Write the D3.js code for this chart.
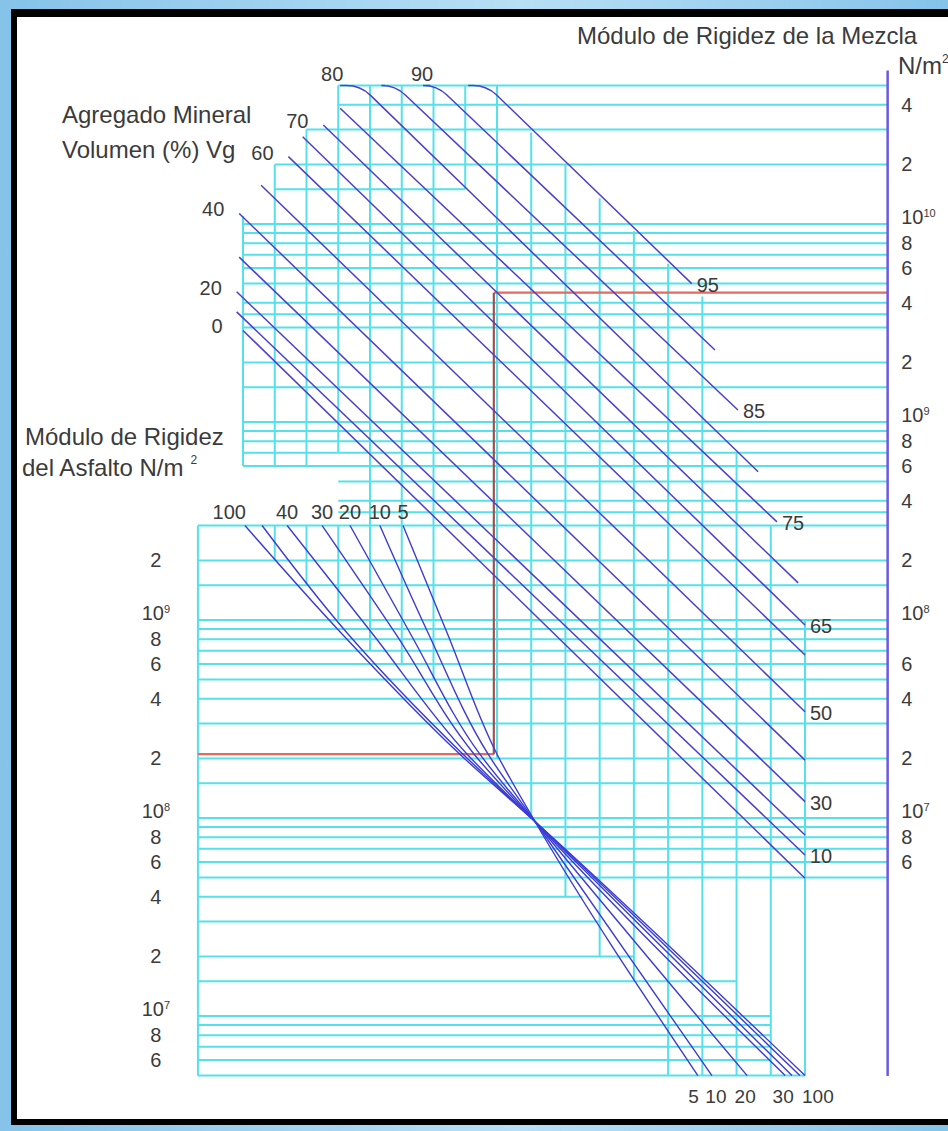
<!DOCTYPE html>
<html>
<head>
<meta charset="utf-8">
<title>Nomograma rigidez de la mezcla</title>
<script src="https://cdn.jsdelivr.net/npm/d3@7/dist/d3.min.js"></script>
<style>
  html, body { margin: 0; padding: 0; background: #ffffff; }
  svg { display: block; }
  text { font-family: "Liberation Sans", Arial, Helvetica, sans-serif; fill: #3b3b3b; }
</style>
</head>
<body>
<svg id="chart" width="948" height="1131"></svg>
<script>
// grid columns are numbered 0..17, the bitumen box starts at -1.42, mix axis sits at 19.4
const leftCol = -1.42;
const axisCol = 19.4;

// right axis: stiffness of the mix, N/m2
const mixTicks = [4e10, 2e10, 1e10, 8e9, 6e9, 4e9, 2e9, 1e9, 8e8, 6e8, 4e8, 2e8, 1e8, 6e7, 4e7, 2e7, 1e7, 8e6, 6e6];
// left axis: stiffness of the bitumen, N/m2
const bitTicks = [2e9, 1e9, 8e8, 6e8, 4e8, 2e8, 1e8, 8e7, 6e7, 4e7, 2e7, 1e7, 8e6, 6e6];

// horizontal grid: [mix stiffness, from column, to column]
const hGrid = [
  [5e10, 3, axisCol], [4e10, 3, axisCol], [3e10, 2, axisCol], [2e10, 1, axisCol], [1.5e10, 1, 7],
  [1e10, 0, axisCol], [9e9, 0, axisCol], [8e9, 0, axisCol], [7e9, 0, axisCol], [6e9, 0, axisCol],
  [5e9, 0, axisCol], [4e9, 0, axisCol], [3.5e9, 0, axisCol], [3e9, 0, axisCol], [2e9, 0, axisCol],
  [1.5e9, 0, axisCol], [1e9, 0, axisCol], [9e8, 0, axisCol], [8e8, 0, axisCol], [7e8, 0, axisCol],
  [6e8, 0, axisCol], [5e8, 3, axisCol], [4e8, 3, axisCol], [3.5e8, 3, axisCol],
  [3e8, leftCol, axisCol], [2e8, leftCol, axisCol], [1.5e8, leftCol, axisCol], [1e8, leftCol, axisCol],
  [9e7, leftCol, axisCol], [8e7, leftCol, axisCol], [7e7, leftCol, axisCol], [6e7, leftCol, axisCol],
  [5e7, leftCol, axisCol], [4e7, leftCol, axisCol], [3e7, leftCol, axisCol], [2e7, leftCol, axisCol],
  [1.5e7, leftCol, axisCol], [1e7, leftCol, axisCol], [9e6, leftCol, axisCol], [8e6, leftCol, axisCol],
  [7e6, leftCol, axisCol], [6e6, leftCol, axisCol], [5e6, leftCol, axisCol],
  [4e6, leftCol, 10.5], [3e6, leftCol, 11], [2e6, leftCol, 12], [1.5e6, leftCol, 15],
  [1e6, leftCol, 16], [9e5, leftCol, 16], [8e5, leftCol, 16], [7e5, leftCol, 16], [6e5, leftCol, 16],
  [5e5, leftCol, 17]
];

// vertical grid: [column, top, bottom] as mix stiffness
const vGrid = [
  [leftCol, 3e8, 5e5],
  [0, 1.1e10, 6e8], [1, 2e10, 6e8], [2, 3e10, 6e8], [3, 5e10, 7e8],
  [1, 3e8, 2e8], [2, 3e8, 1.5e8], [3, 3e8, 1e8],
  [4, 5e10, 7e7], [5, 5e10, 6e7], [6, 5e10, 5e7], [7, 5e10, 1.5e10],
  [8, 5e10, 2e7], [9, 2.9e10, 1e7], [10, 2e10, 4e6], [11, 1.35e10, 2e6],
  [12, 9.2e9, 1.5e6], [13, 6.3e9, 5e5], [14, 4.3e9, 5e5], [15, 7e8, 5e5],
  [16, 3e8, 5e5], [17, 1e8, 5e5]
];

// Vg curves, mineral aggregate volume %: [column, mix stiffness] at both ends
const vgValues = [0, 10, 20, 30, 40, 50, 60, 65, 70, 75, 80, 85, 90, 95];
const vgStart = [
  [0, 2.9e9], [-0.2, 3.6e9], [-0.2, 4.55e9], [-0.12, 6.8e9], [-0.12, 1.13e10],
  [0.57, 1.57e10], [1.43, 2.19e10], [1.88, 2.76e10], [2.53, 3.16e10], [3.06, 3.84e10],
  [3.06, 5e10], [4.47, 5e10], [5.89, 5e10], [7.09, 5e10]
];
// column where the top curves leave the 5e10 line
const vgKnee = [null, null, null, null, null, null, null, null, null, null, 3.70, 4.80, 6.11, 7.68];
const vgEnd = [
  [17, 4.96e6], [17, 6.5e6], [17, 8.2e6], [17, 1.21e7], [17, 1.96e7],
  [17, 3.44e7], [17, 6.65e7], [17, 9.44e7], [16.8, 1.54e8], [16.18, 3.13e8],
  [15.63, 5.61e8], [15.04, 1.15e9], [14.37, 2.31e9], [13.69, 5.0e9]
];
const vgLeftLabels = [0, 20, 40, 60, 70, 80, 90];
const vgRightLabels = [10, 30, 50, 65, 75, 85, 95];

// Vb fan, bitumen volume %: column of each line at the bitumen stiffness levels
const vbValues = [100, 50, 40, 30, 20, 10, 5];
const vbLevels = [3e9, 8.6e8, 2.1e8, 9.6e7, 5e6];
const vbCols = [
  [0.06, 3.09, 6.83, 9.11, 17],
  [0.6, 3.28, 6.93, 9.11, 16.85],
  [1.39, 4.06, 7.06, 9.11, 16.62],
  [2.49, 4.79, 7.28, 9.11, 16.42],
  [3.37, 5.26, 7.46, 9.11, 15.31],
  [4.31, 5.83, 7.72, 9.11, 14.28],
  [5.04, 6.43, 8.0, 9.11, 13.87]
];
const vbTopLabels = [100, 40, 30, 20, 10, 5];
const vbBottomLabels = [5, 10, 20, 30, 100];

// worked example (red path)
const exBitumen = 2.1e8;
const exColumn = 7.9;
const exMix = 4.5e9;

const svg = d3.select("#chart");

// scales
const x = d3.scaleLinear().domain([0, 8, 17]).range([243, 497, 805]);
const yMix = d3.scaleLog().domain([1e6, 1e10]).range([1016, 224]);
const yBit = d3.scaleLog().domain([1e7, 1e11]).range([1016, 224]);

// frame
const grad = svg.append("defs").append("linearGradient").attr("id", "bg")
  .attr("x1", 0).attr("x2", 1).attr("y1", 0).attr("y2", 0);
grad.append("stop").attr("offset", "0%").attr("stop-color", "#86c3e9");
grad.append("stop").attr("offset", "55%").attr("stop-color", "#b7dff5");
grad.append("stop").attr("offset", "100%").attr("stop-color", "#86c3e9");
svg.append("rect").attr("width", 948).attr("height", 1131).attr("fill", "url(#bg)");
svg.append("rect").attr("x", 11).attr("y", 9).attr("width", 950).attr("height", 1116).attr("fill", "#000");
svg.append("rect").attr("x", 17).attr("y", 17).attr("width", 950).attr("height", 1102).attr("fill", "#fff");

// cyan grid
const grid = svg.append("g").attr("stroke", "#55e1ea").attr("stroke-width", 2);
grid.selectAll("line.h")
  .data(hGrid)
  .join("line")
  .attr("class", "h")
  .attr("x1", d => x(d[1]))
  .attr("x2", d => x(d[2]))
  .attr("y1", d => yMix(d[0]))
  .attr("y2", d => yMix(d[0]));
grid.selectAll("line.v")
  .data(vGrid)
  .join("line")
  .attr("class", "v")
  .attr("x1", d => x(d[0]))
  .attr("x2", d => x(d[0]))
  .attr("y1", d => yMix(d[1]))
  .attr("y2", d => yMix(d[2]));

// red example path, drawn before the curves
const red = svg.append("g").attr("fill", "none").attr("stroke-width", 2.2);
red.append("line").attr("stroke", "#e5695d")
  .attr("x1", x(leftCol)).attr("x2", x(exColumn))
  .attr("y1", yBit(exBitumen)).attr("y2", yBit(exBitumen));
red.append("line").attr("stroke", "#e5695d")
  .attr("x1", x(exColumn)).attr("x2", x(axisCol))
  .attr("y1", yMix(exMix)).attr("y2", yMix(exMix));
red.append("line").attr("stroke", "#9e5250")
  .attr("x1", x(exColumn)).attr("x2", x(exColumn))
  .attr("y1", yBit(exBitumen)).attr("y2", yMix(exMix));

// Vg curves
function vgPath(i) {
  const s = vgStart[i], e = vgEnd[i], k = vgKnee[i];
  const ax = x(s[0]), ay = yMix(s[1]), ex = x(e[0]), ey = yMix(e[1]);
  const p = d3.path();
  p.moveTo(ax, ay);
  if (k == null) {
    p.lineTo(ex, ey);
    return p.toString();
  }
  // horizontal run along the top line, rounded knee, then straight down
  const kx = x(k), r = 14;
  const len = Math.hypot(ex - kx, ey - ay);
  p.lineTo(kx - r, ay);
  p.quadraticCurveTo(kx, ay, kx + r * (ex - kx) / len, ay + r * (ey - ay) / len);
  p.lineTo(ex, ey);
  return p.toString();
}

svg.append("g")
  .attr("fill", "none")
  .attr("stroke", "#4b3fcc")
  .attr("stroke-width", 1.5)
  .selectAll("path")
  .data(vgValues)
  .join("path")
  .attr("d", (d, i) => vgPath(i));

// Vb fan
const fanLine = d3.line()
  .x(d => x(d[0]))
  .y(d => yBit(d[1]))
  .curve(d3.curveMonotoneY);

svg.append("g")
  .attr("fill", "none")
  .attr("stroke", "#3b3bd6")
  .attr("stroke-width", 1.4)
  .selectAll("path")
  .data(vbCols)
  .join("path")
  .attr("d", cols => fanLine(cols.map((c, j) => [c, vbLevels[j]])));

// right axis (mix)
const yMixAxis = d3.scaleLog().domain([5e5, 6e10]).range([yMix(5e5), yMix(6e10)]);

function powerLabels(sel) {
  sel.selectAll(".tick text").each(function (d) {
    const t = d3.select(this);
    const p = Math.log10(d);
    if (Math.abs(p - Math.round(p)) < 1e-6) {
      t.text("10").attr("dy", "-0.05em");
      t.append("tspan").attr("dy", "-0.55em").attr("font-size", "55%").text(Math.round(p));
    } else {
      t.text(Math.round(d / Math.pow(10, Math.floor(p))));
    }
  });
}

const rAxis = svg.append("g")
  .attr("transform", `translate(${x(axisCol)},0)`)
  .call(d3.axisRight(yMixAxis).tickValues(mixTicks).tickSize(0).tickPadding(14));
rAxis.attr("font-size", 20);
rAxis.select(".domain").attr("stroke", "#6a5ae0").attr("stroke-width", 2.5);
powerLabels(rAxis);

// left axis (bitumen), no line, the grid edge does that
const lAxis = svg.append("g")
  .attr("transform", `translate(${x(leftCol)},0)`)
  .call(d3.axisLeft(yBit).tickValues(bitTicks).tickSize(0).tickPadding(42));
lAxis.attr("font-size", 20);
lAxis.select(".domain").remove();
lAxis.selectAll(".tick text").attr("text-anchor", "middle");
powerLabels(lAxis);

// curve labels
const labels = svg.append("g").attr("font-size", 20);
labels.selectAll("text.vgl")
  .data(vgLeftLabels)
  .join("text")
  .attr("class", "vgl")
  .attr("text-anchor", "middle")
  .attr("x", v => {
    const i = vgValues.indexOf(v);
    return x(vgStart[i][0]) - (vgKnee[i] == null ? 26 : 8);
  })
  .attr("y", v => {
    const i = vgValues.indexOf(v);
    return yMix(vgStart[i][1]) + (vgKnee[i] == null ? 3 : -5);
  })
  .text(v => v);

labels.selectAll("text.vgr")
  .data(vgRightLabels)
  .join("text")
  .attr("class", "vgr")
  .attr("x", v => x(vgEnd[vgValues.indexOf(v)][0]) + 5)
  .attr("y", v => yMix(vgEnd[vgValues.indexOf(v)][1]) + 8)
  .text(v => v);

labels.selectAll("text.vbt")
  .data(vbTopLabels)
  .join("text")
  .attr("class", "vbt")
  .attr("text-anchor", v => v === 100 ? "end" : "middle")
  .attr("x", v => x(vbCols[vbValues.indexOf(v)][0]) + (v === 100 ? 1 : 0))
  .attr("y", yBit(vbLevels[0]) - 7)
  .text(v => v);

// bottom labels: the 5 and 10 lines end close together, so push them apart
labels.selectAll("text.vbb")
  .data(vbBottomLabels)
  .join("text")
  .attr("class", "vbb")
  .attr("font-size", 19)
  .attr("text-anchor", v => v === 100 ? "start" : v === 5 ? "end" : "middle")
  .attr("x", v => {
    const bx = x(vbCols[vbValues.indexOf(v)][4]);
    if (v === 100) return bx - 3;
    if (v === 5) return bx + 1;
    if (v === 10) return bx + 4;
    return bx - 2;
  })
  .attr("y", yBit(vbLevels[4]) + 27)
  .text(v => v);

// titles
const titles = svg.append("g").attr("font-size", 24);
titles.append("text").attr("x", 577).attr("y", 44).text("Módulo de Rigidez de la Mezcla");
const nm = titles.append("text").attr("x", 898).attr("y", 74).text("N/m");
nm.append("tspan").attr("dy", -11).attr("font-size", 12).text("2");
titles.append("text").attr("x", 62).attr("y", 123).text("Agregado Mineral");
titles.append("text").attr("x", 62).attr("y", 158).text("Volumen (%) Vg");
titles.append("text").attr("x", 25).attr("y", 445).text("Módulo de Rigidez");
const asf = titles.append("text").attr("x", 22).attr("y", 476).text("del Asfalto N/m");
asf.append("tspan").attr("dx", 7).attr("dy", -12).attr("font-size", 12).text("2");
</script>
</body>
</html>
